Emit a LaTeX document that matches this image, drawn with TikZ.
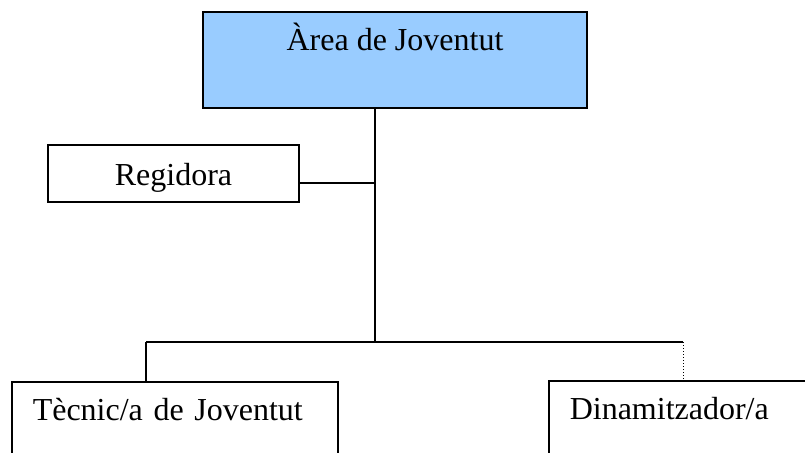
\documentclass[tikz,border=0pt]{standalone}
\usepackage{fontspec}
\setmainfont{Liberation Serif}
\usetikzlibrary{positioning,calc}
\definecolor{areablue}{RGB}{153,204,255}

\begin{document}
\begin{tikzpicture}[x=1pt, y=-1pt, line width=1.5pt, font=\fontsize{32}{38}\selectfont]
	\tikzstyle{every node}=[draw=black, rectangle, line width=1.5pt, inner ysep=0pt]
	\tikzstyle{lowbox}=[anchor=north west, inner xsep=21pt, align=left, text height=39pt, text depth=70pt]
		\clip (0,0) rectangle (805,452);
		\node (area)[fill=areablue, line width=2pt, anchor=north, minimum width=384pt, text height=39pt, text depth=57pt] at (395,11) {Àrea de Joventut};
		\node (regidora)[minimum width=251pt, minimum height=57pt, text height=30pt, text depth=7pt] at (173.5,173.5) {Regidora};
		\node (tecnic)[lowbox, text width=284pt] at (11,381) {Tècnic/a de Joventut};
		\node (dinam)[lowbox, text width=320pt] at (548,380) {Dinamitzador/a};
		% connectors
		\coordinate (hub) at ($(area.south)+(-20,0)$);
		\coordinate (bus) at (375,342);
		\coordinate (rj) at (375,183);
		\coordinate (tj) at (146,342);
		\coordinate (dj) at (683,342);
		\path[draw]
			(hub) -- (bus)
			(regidora.east |- rj) -- (rj)
			(tj) -- (dj)
			(tj) -- (tj |- tecnic.north);
		\draw[dotted, line width=1pt] (dj) -- (dj |- dinam.north);
\end{tikzpicture}
\end{document}
